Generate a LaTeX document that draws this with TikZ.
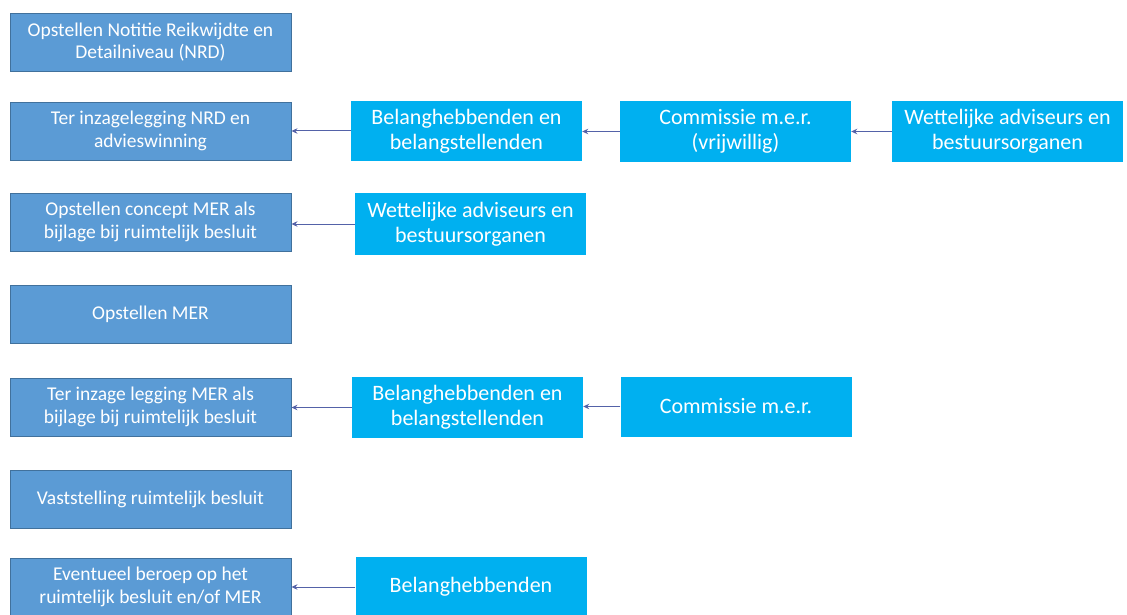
\documentclass[tikz,border=0pt]{standalone}
\usepackage{fontspec}
\setmainfont{Carlito}
\usetikzlibrary{arrows.meta}
\definecolor{stepblue}{HTML}{5B9BD5}
\definecolor{stepedge}{HTML}{41719C}
\definecolor{actorblue}{HTML}{00B0F0}
\definecolor{arrowcol}{HTML}{5462A8}
\tikzset{
  stepbox/.style={draw=stepedge, line width=0.9pt, fill=stepblue, text=white, inner sep=0pt,
    minimum width=281pt, minimum height=58pt, align=center,
    font=\fontsize{19.5}{22.5}\selectfont},
  actorbox/.style={fill=actorblue, text=white, inner sep=0pt,
    minimum width=231pt, minimum height=60pt, align=center,
    font=\fontsize{22}{25}\selectfont},
  link/.style={draw=arrowcol, line width=1pt, -{Stealth[length=6pt,width=5.5pt]}}
}
\begin{document}
\begin{tikzpicture}[x=1pt,y=-1pt]
\useasboundingbox (0,0) rectangle (1127,615);
% left column
\node[stepbox] (s1) at (150.5,42) {Opstellen Notitie Reikwijdte en\\Detailniveau (NRD)};
\node[stepbox] (s2) at (150.5,131) {Ter inzagelegging NRD en\\advieswinning};
\node[stepbox] (s3) at (150.5,222) {Opstellen concept MER als\\bijlage bij ruimtelijk besluit};
\node[stepbox] (s4) at (150.5,314.5) {Opstellen MER};
\node[stepbox] (s5) at (150.5,407) {Ter inzage legging MER als\\bijlage bij ruimtelijk besluit};
\node[stepbox] (s6) at (150.5,499) {Vaststelling ruimtelijk besluit};
\node[stepbox] (s7) at (150.5,587) {Eventueel beroep op het\\ruimtelijk besluit en/of MER};
% actors
\node[actorbox] (b2) at (466.5,131) {Belanghebbenden en\\belangstellenden};
\node[actorbox] (c2) at (735.5,131.5) {Commissie m.e.r.\\(vrijwillig)};
\node[actorbox] (w2) at (1007.5,131.5) {Wettelijke adviseurs en\\bestuursorganen};
\node[actorbox, minimum height=62pt] (w3) at (470.5,224) {Wettelijke adviseurs en\\bestuursorganen};
\node[actorbox, minimum height=61pt] (b5) at (467.5,407.5) {Belanghebbenden en\\belangstellenden};
\node[actorbox] (c5) at (736,406.5) {Commissie m.e.r.};
\node[actorbox] (b7) at (471,587) {Belanghebbenden};
% connectors
\draw[link] (b2.west) -- (b2.west -| s2.east);
\draw[link] (c2.west) -- (c2.west -| b2.east);
\draw[link] (w2.west) -- (w2.west -| c2.east);
\draw[link] (w3.west) -- (w3.west -| s3.east);
\draw[link] (b5.west) -- (b5.west -| s5.east);
\draw[link] (c5.west) -- (c5.west -| b5.east);
\draw[link] (b7.west) -- (b7.west -| s7.east);
\end{tikzpicture}
\end{document}
